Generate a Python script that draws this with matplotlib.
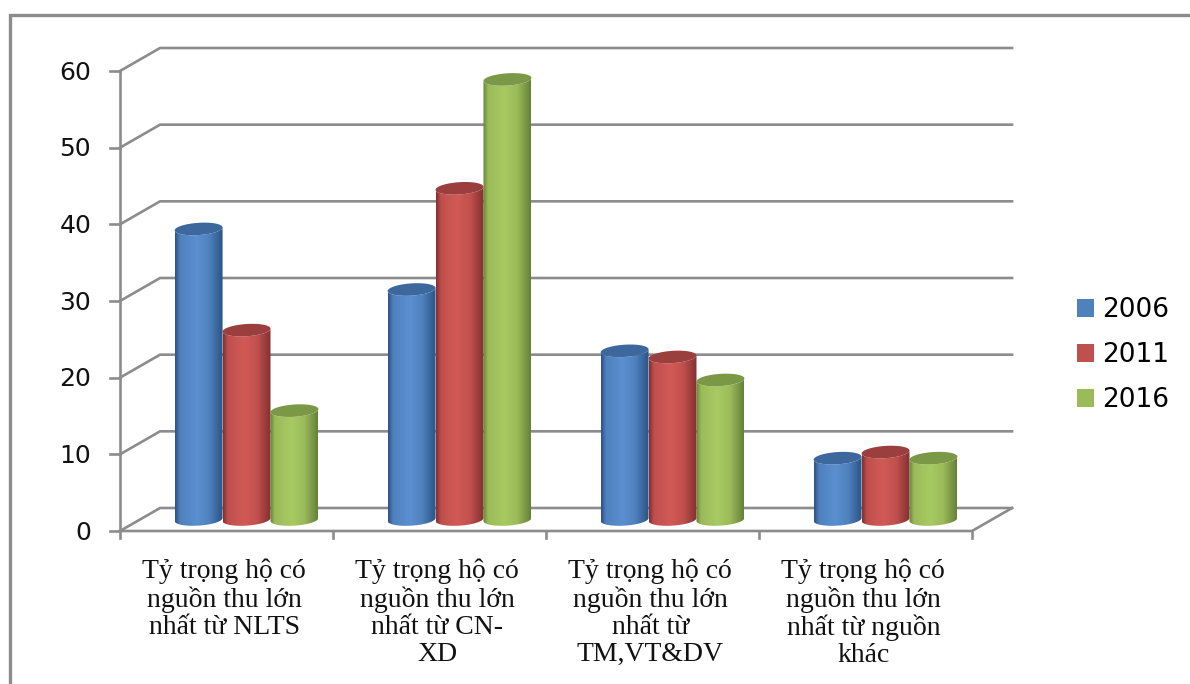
import numpy as np
import matplotlib
matplotlib.use("Agg")
import matplotlib.pyplot as plt
from matplotlib.colors import LinearSegmentedColormap
from matplotlib.patches import PathPatch, Patch
from matplotlib.path import Path

categories = [
    "Tỷ trọng hộ có\nnguồn thu lớn\nnhất từ NLTS",
    "Tỷ trọng hộ có\nnguồn thu lớn\nnhất từ CN-\nXD",
    "Tỷ trọng hộ có\nnguồn thu lớn\nnhất từ\nTM,VT&DV",
    "Tỷ trọng hộ có\nnguồn thu lớn\nnhất từ nguồn\nkhác",
]
years = ["2006", "2011", "2016"]
values_2006 = [37.9, 30, 22, 8]
values_2011 = [24.7, 43.2, 21.2, 8.8]
values_2016 = [14.2, 57.4, 18.2, 8]
yticks = [0, 10, 20, 30, 40, 50, 60]

# edge, mid, highlight, cap shades for each series
shades = [
    ("#2c5486", "#4f81bd", "#5b8fd0", "#3c689e"),
    ("#843030", "#c0504d", "#d25a56", "#9a3f3d"),
    ("#67823a", "#9bbb59", "#a8ca62", "#7a9845"),
]

# depth of the floor and of the cylinders, in data units
DEPTH_X = 0.188
DEPTH_Y = 3.0
BAR_W = 0.225
ELL_Y = 0.8
TILT = 1.75
GREY = "#8c8c8c"

fig = plt.figure(figsize=(11.9, 6.84), dpi=100)
ax = fig.add_axes([120 / 1190, 1 - 531 / 684, (972 - 120) / 1190, (531 - 71) / 684])
ax.set_xlim(0, 4)
ax.set_ylim(0, 60)
ax.axis("off")

# outer chart frame
fig.add_artist(plt.Line2D([10 / 1190, 10 / 1190, 1], [0, 1 - 15 / 684, 1 - 15 / 684],
                          color=GREY, lw=2.4, solid_joinstyle="miter"))

# back wall gridlines, left wall diagonals, floor
for t in yticks:
    ax.plot([0, DEPTH_X, 4 + DEPTH_X], [t, t + DEPTH_Y, t + DEPTH_Y],
            color=GREY, lw=1.9, clip_on=False, zorder=1)
    ax.plot([-0.045, 0], [t, t], color=GREY, lw=1.9, clip_on=False, zorder=1)
    ax.text(-0.135, t - 0.2, str(t), ha="right", va="center", fontsize=18,
            family="DejaVu Sans", color="#111111")
ax.plot([0, 0], [-0.9, 60], color=GREY, lw=1.9, clip_on=False, zorder=1)
ax.plot([0, 4, 4 + DEPTH_X], [0, 0, DEPTH_Y], color=GREY, lw=1.9, clip_on=False, zorder=1)
for i in range(1, 5):
    ax.plot([i, i], [-0.9, 0], color=GREY, lw=1.9, clip_on=False, zorder=1)

cols = [values_2006, values_2011, values_2016]
t_low = np.linspace(np.pi, 2 * np.pi, 40)
t_all = np.linspace(0, 2 * np.pi, 80)


def ring(xc, yc, t):
    dx = BAR_W / 2 * np.cos(t)
    return xc + dx, yc + ELL_Y * np.sin(t) + TILT * dx


for g in range(len(categories)):
    for s in range(3):
        xc = g + 0.5 + DEPTH_X / 2 + (s - 1) * BAR_W
        base = DEPTH_Y / 2
        top = base + cols[s][g]
        zo = 3 + s
        edge, mid, hi, cap = shades[s]
        cmap = LinearSegmentedColormap.from_list(
            "cyl", [(0, edge), (0.1, mid), (0.45, hi), (0.72, mid), (1, edge)])

        # cylinder side: gradient image clipped to the body outline
        bx, by = ring(xc, base, t_low)
        tx, ty = ring(xc, top, t_low[::-1])
        body = np.column_stack([np.r_[bx, tx], np.r_[by, ty]])
        path = Path(np.vstack([body, body[0]]), closed=True)
        im = ax.imshow(np.linspace(0, 1, 64).reshape(1, -1), cmap=cmap, aspect="auto",
                       extent=[xc - BAR_W / 2, xc + BAR_W / 2, base - 2, top + 2],
                       zorder=zo, interpolation="bilinear")
        im.set_clip_path(PathPatch(path, transform=ax.transData))

        # top cap
        cx, cy = ring(xc, top, t_all)
        ax.fill(cx, cy, color=cap, lw=0, zorder=zo + 0.5, clip_on=False)

ax.set_xlim(0, 4)
ax.set_ylim(0, 60)

for g, label in enumerate(categories):
    ax.text(g + 0.49, -3.65, label, ha="center", va="top", fontsize=20,
            family="Liberation Serif", color="#111111", linespacing=1.095)

handles = [Patch(facecolor=shades[i][1], label=years[i]) for i in range(3)]
fig.legend(handles=handles, loc="center left", bbox_to_anchor=(1053 / 1190, 1 - 355 / 684),
           frameon=False, prop={"family": "DejaVu Sans", "size": 19},
           handlelength=0.66, handleheight=0.66, handletextpad=0.3, labelspacing=0.72)

fig.savefig("out.png", dpi=100)
